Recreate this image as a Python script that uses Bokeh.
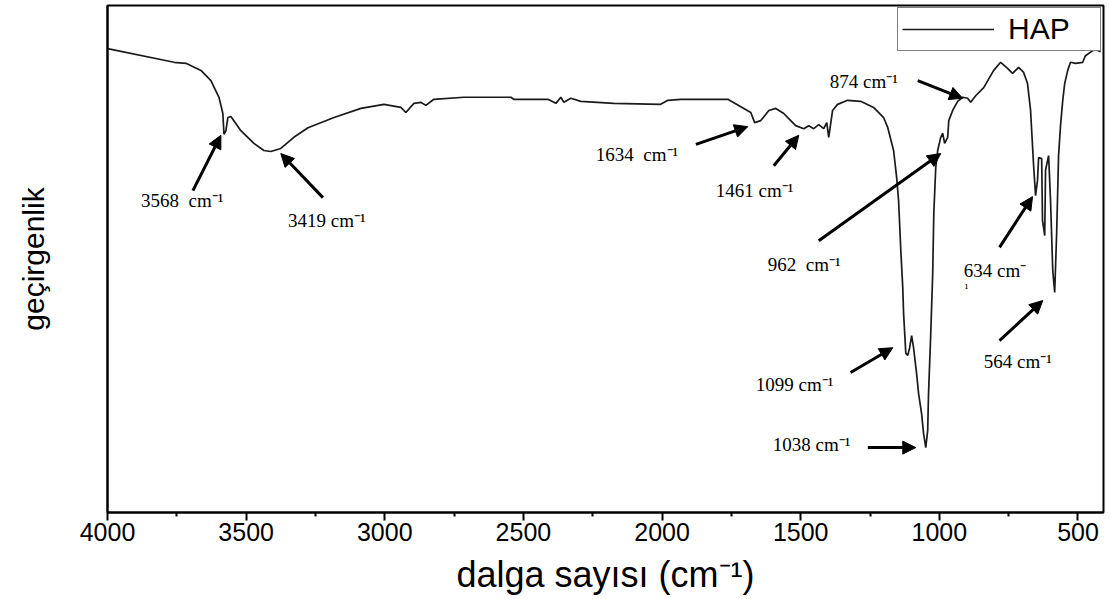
from bokeh.plotting import figure
from bokeh.models import Range1d, FixedTicker, Label, Arrow, NormalHead
from bokeh.embed import file_html
from bokeh.resources import INLINE

# ---- FTIR spectrum of HAP ----
wavenumber = [4000, 3760, 3717, 3663, 3627, 3598, 3584, 3580, 3573, 3566, 3555, 3519, 3472, 3436,
              3411, 3375, 3328, 3277, 3183, 3086, 3003, 2942, 2924, 2895, 2870, 2852, 2823, 2715,
              2545, 2535, 2412, 2383, 2365, 2354, 2329, 2293, 2174, 2005, 1979, 1933, 1763, 1705,
              1680, 1666, 1644, 1615, 1590, 1561, 1543, 1518, 1489, 1471, 1453, 1435, 1417, 1406,
              1399, 1385, 1367, 1331, 1284, 1237, 1201, 1186, 1165, 1154, 1147, 1139, 1132, 1129,
              1121, 1114, 1107, 1100, 1093, 1082, 1075, 1064, 1057, 1049, 1042, 1039, 1031, 1024,
              1020, 1013, 1006, 995, 988, 981, 970, 966, 952, 934, 916, 898, 887, 869, 840, 804,
              779, 754, 736, 714, 696, 682, 671, 660, 653, 646, 642, 631, 628, 620, 617, 606, 599,
              591, 584, 577, 570, 563, 555, 548, 537, 527, 509, 483, 473, 447, 436, 418]
transmittance = [91.5, 88.8, 88.6, 87.2, 85.2, 81.9, 78.7, 74.6, 75.3, 77.9, 78.1, 75.3, 72.8, 71.4,
                 71.2, 71.8, 74.0, 75.9, 77.9, 79.7, 80.5, 79.9, 78.9, 80.7, 80.9, 80.3, 81.5, 81.9,
                 81.9, 81.5, 81.5, 80.7, 81.9, 80.9, 81.7, 81.1, 80.7, 80.5, 81.3, 81.5, 81.5, 79.7,
                 78.9, 76.9, 77.3, 79.3, 79.7, 78.7, 77.7, 76.3, 75.7, 76.3, 75.7, 76.5, 75.7, 76.9,
                 74.0, 79.3, 80.5, 81.3, 81.1, 79.9, 77.9, 75.9, 71.4, 66.1, 61.5, 51.7, 44.4, 39.3,
                 31.4, 31.0, 32.5, 34.9, 32.5, 27.4, 23.5, 19.5, 15.6, 12.8, 16.2, 23.5, 35.3, 47.1,
                 59.0, 68.0, 71.4, 74.0, 74.8, 72.8, 74.0, 77.3, 79.3, 81.1, 81.9, 81.7, 80.9, 82.2,
                 83.8, 87.2, 88.8, 87.6, 86.6, 87.8, 86.8, 84.6, 79.3, 68.4, 62.5, 65.5, 70.0, 69.8,
                 57.6, 54.6, 67.5, 70.4, 61.5, 47.7, 43.4, 55.0, 70.4, 76.3, 81.3, 84.6, 87.2, 88.8,
                 88.6, 88.8, 90.1, 91.1, 91.3, 90.9]

x_ticks = [4000, 3500, 3000, 2500, 2000, 1500, 1000, 500]
x_minor_ticks = [3750, 3250, 2750, 2250, 1750, 1250, 750]

# ---- peak annotations: label text, label position, arrow tail, arrow tip ----
ann_text = ["3568\u00a0 cm⁻¹", "3419 cm⁻¹", "1634\u00a0 cm⁻¹", "1461 cm⁻¹", "874 cm⁻¹",
            "962\u00a0 cm⁻¹", "1099 cm⁻¹", "1038 cm⁻¹", "634 cm⁻", "564 cm⁻¹"]
ann_x = [3879, 3349, 2239, 1806, 1395, 1619, 1662, 1601, 912, 840]
ann_y = [61.5, 57.6, 70.6, 63.5, 85.0, 48.9, 25.2, 13.4, 47.7, 29.8]
arr_x0 = [3692, 3223, 1878, 1597, 1078, 1435, 1320, 1258, 783, 783]
arr_y0 = [63.5, 62.1, 72.6, 68.4, 85.2, 53.6, 27.6, 12.8, 52.3, 33.9]
arr_x1 = [3591, 3375, 1691, 1507, 916, 995, 1168, 1085, 664, 627]
arr_y1 = [74.4, 70.8, 76.1, 74.4, 81.7, 70.8, 32.5, 12.8, 62.3, 41.8]

p = figure(width=1110, height=599, x_range=Range1d(4000, 408), y_range=Range1d(0, 100),
           output_backend="svg", toolbar_location=None,
           min_border_left=107, min_border_right=7, min_border_top=5, min_border_bottom=87,
           background_fill_color="white", border_fill_color="white")
p.outline_line_color = "black"
p.outline_line_width = 2
p.xgrid.visible = False
p.ygrid.visible = False

p.line(wavenumber, transmittance, line_color="#1a1a1a", line_width=1.7, legend_label="HAP")

# x axis
xa = p.xaxis[0]
xa.ticker = FixedTicker(ticks=x_ticks, minor_ticks=x_minor_ticks)
xa.axis_line_width = 2
xa.major_tick_in = 0
xa.major_tick_out = 8
xa.minor_tick_in = 0
xa.minor_tick_out = 4
xa.major_tick_line_width = 2
xa.minor_tick_line_width = 2
xa.major_label_text_font = "Liberation Sans"
xa.major_label_text_font_size = "25px"
xa.major_label_text_color = "black"
xa.major_label_standoff = 2
xa.axis_label = "dalga sayısı (cm⁻¹)"
xa.axis_label_text_font = "Liberation Sans"
xa.axis_label_text_font_size = "36px"
xa.axis_label_text_font_style = "normal"
xa.axis_label_text_color = "black"
xa.axis_label_standoff = 10

# y axis (no ticks)
ya = p.yaxis[0]
ya.ticker = FixedTicker(ticks=[])
ya.axis_line_width = 2
ya.major_tick_line_color = None
ya.minor_tick_line_color = None
ya.axis_label = "geçirgenlik"
ya.axis_label_text_font = "Liberation Sans"
ya.axis_label_text_font_size = "30px"
ya.axis_label_text_font_style = "normal"
ya.axis_label_text_color = "black"
ya.axis_label_standoff = 58

# annotations
for t, x, y in zip(ann_text, ann_x, ann_y):
    p.add_layout(Label(x=x, y=y, text=t, text_font="Liberation Serif", text_font_size="19px",
                       text_color="black", text_baseline="middle", text_align="left"))
# wrapped remainder of the 634 label
p.add_layout(Label(x=ann_x[8], y=ann_y[8], y_offset=-17, x_offset=1, text="¹",
                   text_font="Liberation Serif", text_font_size="12px", text_color="black",
                   text_baseline="middle", text_align="left"))

for x0, y0, x1, y1 in zip(arr_x0, arr_y0, arr_x1, arr_y1):
    p.add_layout(Arrow(x_start=x0, y_start=y0, x_end=x1, y_end=y1, line_width=3, line_color="black",
                       end=NormalHead(size=13, fill_color="black", line_color="black", line_width=1)))

# legend
lg = p.legend[0]
lg.location = "top_right"
lg.border_line_color = "black"
lg.border_line_width = 1.5
lg.padding = 4
lg.margin = 2
lg.spacing = 0
lg.glyph_width = 92
lg.glyph_height = 28
lg.label_height = 28
lg.label_width = 88
lg.label_standoff = 14
lg.label_text_font = "Liberation Sans"
lg.label_text_font_size = "30px"
lg.label_text_color = "black"
lg.background_fill_alpha = 1

open("out.html", "w").write(file_html(p, INLINE))
